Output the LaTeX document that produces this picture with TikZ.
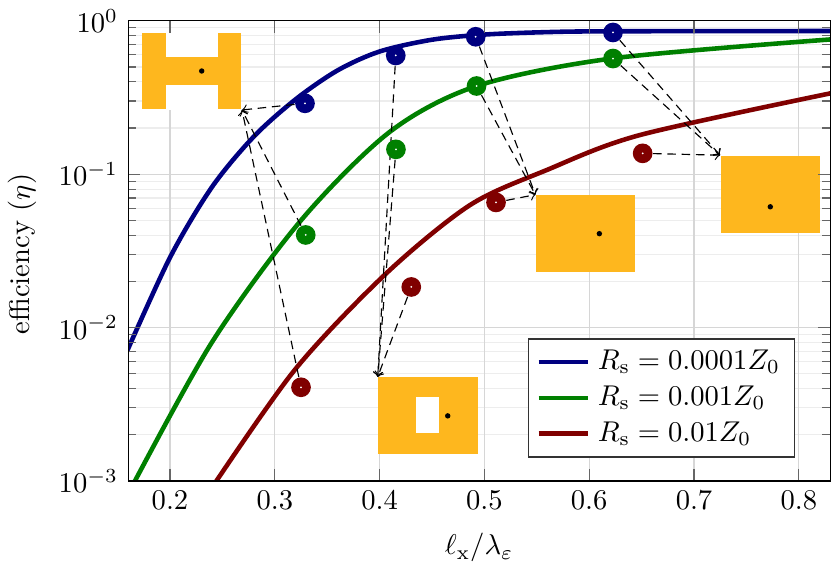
\documentclass[tikz,border=0pt]{standalone}
\usepackage{amsmath}
\usepackage{amssymb}
\usepackage{tikz}
\usetikzlibrary{arrows, positioning}
\definecolor{azul}{rgb}{0,0,0.5}
\definecolor{verde}{rgb}{0,0.5,0}
\definecolor{rojo}{rgb}{0.5,0,0}
\definecolor{naranja}{RGB}{254,183,30}
\pgfdeclarelayer{fondo}
\pgfsetlayers{fondo,main}
\tikzstyle{curva} = [line width=1.6pt, line join=round]
\tikzstyle{marca} = [circle, inner sep=0pt, minimum size=6.9pt, path picture={\fill[white] (path picture bounding box.center) circle (0.35pt);}]
\tikzstyle{celda} = [fill=naranja, minimum width=34.8pt, minimum height=26.9pt, inner sep=0pt]
\tikzstyle{punto} = [circle, fill=black, inner sep=0pt, minimum size=1.9pt]
\tikzstyle{enlace} = [thin, dash pattern=on 3pt off 2pt, ->]
\tikzstyle{rejilla} = [black!16, thin]
\tikzstyle{rejillamenor} = [black!7, thin]
\tikzstyle{marcaeje} = [black!60, thin]

\begin{document}
\begin{tikzpicture}
	\useasboundingbox (0,0) rectangle (290.85pt,198.8pt);
	\begin{scope}[shift={(-13.86pt,191.52pt)}, x=366.8pt, y=53.69pt]
	% rejilla y curvas
	\begin{pgfonlayer}{fondo}
		\foreach \d in {-3,-2,-1}
			\foreach \k in {2,...,9}
				\draw[rejillamenor] (0.16,{\d+log10(\k)}) -- (0.83,{\d+log10(\k)});
		\foreach \e in {-2,-1}
			\draw[rejilla] (0.16,\e) -- (0.83,\e);
		\foreach \i in {2,...,8}
			\draw[rejilla] ({\i/10},-3) -- ({\i/10},0);
		\begin{scope}
			\clip (0.16,-3) rectangle (0.83,0);
			\draw[curva, azul] plot[smooth] coordinates {(0.156,-2.2) (0.20,-1.543) (0.24,-1.084) (0.28,-0.7545) (0.32,-0.511) (0.36,-0.3228) (0.40,-0.2002) (0.45,-0.1233) (0.50,-0.0897) (0.56,-0.0737) (0.62,-0.0685) (0.835,-0.0665)};
			\draw[curva, verde] plot[smooth] coordinates {(0.158,-3.11) (0.2394,-2.1023) (0.3253,-1.2986) (0.4099,-0.723) (0.4927,-0.425) (0.623,-0.2445) (0.835,-0.119)};
			\draw[curva, rojo] plot[smooth] coordinates {(0.236,-3.084) (0.3190,-2.276) (0.4064,-1.646) (0.4863,-1.201) (0.5594,-0.973) (0.6485,-0.7445) (0.835,-0.466)};
		\end{scope}
	\end{pgfonlayer}

	% formas
	\node[celda] (hform) at (0.2207,-0.3272) {};
	\fill[white] ([xshift=8.5pt]hform.north west) rectangle ([xshift=-8.5pt,yshift=-8.85pt]hform.north east);
	\fill[white] ([xshift=8.5pt]hform.south west) rectangle ([xshift=-8.5pt,yshift=8.6pt]hform.south east);
	\node[punto] (hdot) at ([xshift=3.5pt]hform.center) {};
	\node[celda] (cform) at (0.4462,-2.5753) {};
	\fill[white] ([xshift=13.4pt,yshift=-6.9pt]cform.north west) rectangle ([xshift=21.6pt,yshift=-19.7pt]cform.north west);
	\node[punto] (cdot) at ([xshift=6.9pt]cform.center) {};
	\node[celda] (aform) at (0.5966,-1.3876) {};
	\node[punto] (adot) at ([xshift=4.8pt]aform.center) {};
	\node[celda] (bform) at (0.7728,-1.1304) {};
	\node[punto] (bdot) at ([yshift=-4.4pt]bform.center) {};

	% marcas
	\node[marca, fill=azul] (b1) at (0.3288,-0.538) {};
	\node[marca, fill=azul] (b2) at (0.4154,-0.226) {};
	\node[marca, fill=azul] (b3) at (0.4917,-0.104) {};
	\node[marca, fill=azul] (b4) at (0.6227,-0.076) {};
	\node[marca, fill=verde] (g1) at (0.3295,-1.396) {};
	\node[marca, fill=verde] (g2) at (0.4156,-0.838) {};
	\node[marca, fill=verde] (g3) at (0.4925,-0.425) {};
	\node[marca, fill=verde] (g4) at (0.6227,-0.246) {};
	\node[marca, fill=rojo] (r1) at (0.3250,-2.389) {};
	\node[marca, fill=rojo] (r2) at (0.4302,-1.735) {};
	\node[marca, fill=rojo] (r3) at (0.5111,-1.184) {};
	\node[marca, fill=rojo] (r4) at (0.6510,-0.864) {};

	\begin{pgfonlayer}{fondo}
		\foreach \m in {b1,g1,r1}
			\draw[enlace] (\m) -- (hform.south east);
		\foreach \m in {b2,g2,r2}
			\draw[enlace] (\m) -- (cform.north west);
		\foreach \m in {b3,g3,r3}
			\draw[enlace] (\m) -- (aform.north west);
		\foreach \m in {b4,g4,r4}
			\draw[enlace] (\m) -- (bform.north west);
	\end{pgfonlayer}

	% ejes
	\foreach \i in {2,...,8} {
		\draw[marcaeje] ({\i/10},-3) -- ++(0,4.26pt);
		\draw[marcaeje] ({\i/10},0) -- ++(0,-4.26pt);
		\node[anchor=north] (xt\i) at ({\i/10},-3) {$0.\i$};
	}
	\foreach \e in {0,-1,-2,-3} {
		\draw[marcaeje] (0.16,\e) -- ++(4.26pt,0);
		\draw[marcaeje] (0.83,\e) -- ++(-4.26pt,0);
		\node[anchor=east] (yt\e) at (0.16,\e) {$10^{\e}$};
	}
	\foreach \d in {-3,-2,-1}
		\foreach \k in {2,...,9} {
			\draw[marcaeje] (0.16,{\d+log10(\k)}) -- ++(2.85pt,0);
			\draw[marcaeje] (0.83,{\d+log10(\k)}) -- ++(-2.85pt,0);
		}
	\draw (0.16,-3) rectangle (0.83,0);
	\node[anchor=base] (xlab) at (0.495,-3.482) {$\ell_{\mathrm{x}}/\lambda_{\varepsilon}$};
	\node[rotate=90, anchor=base] (ylab) at (0.0664,-1.52) {efficiency ($\eta$)};

	% leyenda
	\node[draw=black!80, fill=white, minimum width=93.3pt, minimum height=41.3pt, inner sep=0pt] (leyenda) at (0.6691,-2.459) {};
	\node[anchor=west] (leg1) at ([xshift=21pt,yshift=12.6pt]leyenda.west) {$R_{\mathrm{s}}=0.0001Z_0$};
	\node[anchor=west] (leg2) at ([yshift=-12.55pt]leg1.west) {$R_{\mathrm{s}}=0.001Z_0$};
	\node[anchor=west] (leg3) at ([yshift=-12.55pt]leg2.west) {$R_{\mathrm{s}}=0.01Z_0$};
	\draw[curva, azul] ([xshift=-17.2pt]leg1.west) -- (leg1.west);
	\draw[curva, verde] ([xshift=-17.2pt]leg2.west) -- (leg2.west);
	\draw[curva, rojo] ([xshift=-17.2pt]leg3.west) -- (leg3.west);
	\end{scope}
\end{tikzpicture}
\end{document}
